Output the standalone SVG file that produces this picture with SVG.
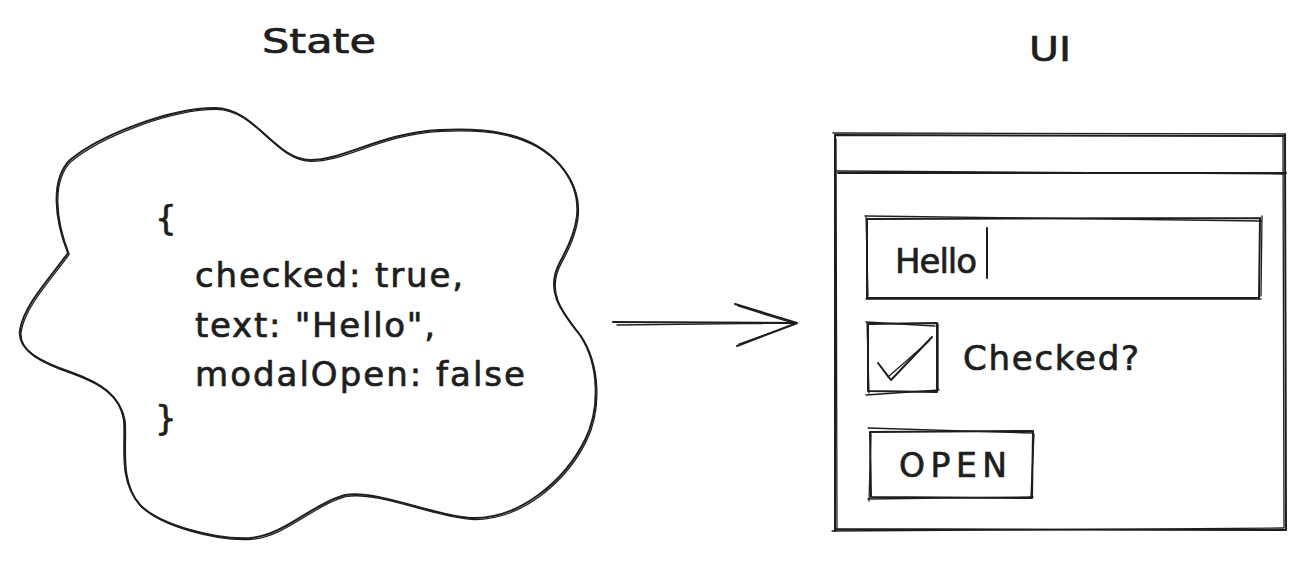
<svg xmlns="http://www.w3.org/2000/svg" width="1307" height="561" viewBox="0 0 1307 561">
<style>
.s{fill:none;stroke:#1e1e1e;stroke-width:2;stroke-linecap:round;stroke-linejoin:round}
.s2{fill:none;stroke:#1e1e1e;stroke-width:1.3;stroke-linecap:round;stroke-linejoin:round}
.t{font-family:"DejaVu Sans","Liberation Sans",sans-serif;fill:#1e1e1e;stroke:#1e1e1e;stroke-width:0.7;stroke-linejoin:round}
</style>
<defs>
<path id="cloudPath" d="M 68 253 C 50 278, 24 305, 20 330 C 17 350, 40 362, 73 373 C 100 383, 120 395, 124 420 C 126 445, 118 480, 140 505 C 160 525, 215 540, 250 538 C 285 535, 310 505, 345 495 C 380 490, 430 515, 470 518 C 520 520, 565 480, 585 440 C 600 410, 600 365, 580 335 C 560 310, 545 290, 560 262 C 575 235, 590 200, 560 165 C 530 130, 480 128, 440 130 C 380 133, 345 160, 310 160 C 275 160, 255 108, 215 108 C 170 108, 100 135, 70 160 C 50 180, 55 220, 68 253 Z"/>
</defs>
<rect width="1307" height="561" fill="#ffffff"/>

<g id="state-label">
<text class="t" x="262" y="53" font-size="33" textLength="114" lengthAdjust="spacingAndGlyphs">State</text>
</g>
<g id="ui-label">
<text class="t" x="1029" y="61" font-size="33" textLength="42" lengthAdjust="spacingAndGlyphs">UI</text>
</g>

<g id="state-cloud">
<use href="#cloudPath" class="s"/>
<use href="#cloudPath" class="s2" transform="translate(1.2,1.4)"/>
<text class="t" x="155" y="230" font-size="34">{</text>
<text class="t" x="195" y="287" font-size="34" textLength="268">checked: true,</text>
<text class="t" x="195" y="337" font-size="34" textLength="240">text: "Hello",</text>
<text class="t" x="195" y="386" font-size="34" textLength="330">modalOpen: false</text>
<text class="t" x="155" y="430" font-size="34">}</text>
</g>

<g id="ui-window">
<path class="s" d="M 835 135 L 1285 136 M 1285 134 L 1286 530 M 1286 530 L 835 529 M 835 531 L 835 135 M 838 173 L 1286 173"/>
<path class="s2" d="M 833 133 L 1284 134 M 1283 137 L 1284 528 M 1283 528 L 832 531 M 837 529 L 836 139 M 837 171 L 1284 174"/>
</g>

<g id="text-field">
<path class="s" d="M 867 219 L 1260 218 M 1260 218 L 1259 298 M 1259 298 L 867 298 M 867 298 L 867 219"/>
<path class="s2" d="M 865 216 L 1261 221 M 1262 216 L 1261 296 M 1261 299 L 866 299 M 868 296 L 866 216"/>
<text class="t" x="895" y="273" font-size="34" textLength="82">Hello</text>
<path class="s" d="M 987 228 L 987 278"/>
</g>

<g id="checkbox">
<path class="s" d="M 868 324 L 937 323 M 937 323 L 937 392 M 937 392 L 868 391 M 868 391 L 868 324"/>
<path class="s2" d="M 866 322 L 935 326 M 938 324 L 938 389 M 939 390 L 866 395 M 869 393 L 867 322"/>
<path class="s" d="M 878 363 L 891 380 L 932 337"/>
<path class="s2" d="M 881 367 L 888 377 L 929 341"/>
<text class="t" x="963" y="370" font-size="34" textLength="176">Checked?</text>
</g>

<g id="open-button">
<path class="s" d="M 870 432 L 1033 431 M 1033 431 L 1032 498 M 1032 498 L 871 497 M 871 497 L 870 432"/>
<path class="s2" d="M 868 428 L 1032 433 M 1034 434 L 1031 496 M 1033 497 L 868 499 M 869 501 L 871 434"/>
<text class="t" x="899" y="477" font-size="33" textLength="108">OPEN</text>
</g>

<g id="connectors">
<path class="s" d="M 613 322 L 797 323 M 735 304 L 797 323 L 737 346"/>
<path class="s2" d="M 617 325 L 795 323 M 738 306 L 796 324 L 739 344"/>
</g>
</svg>
